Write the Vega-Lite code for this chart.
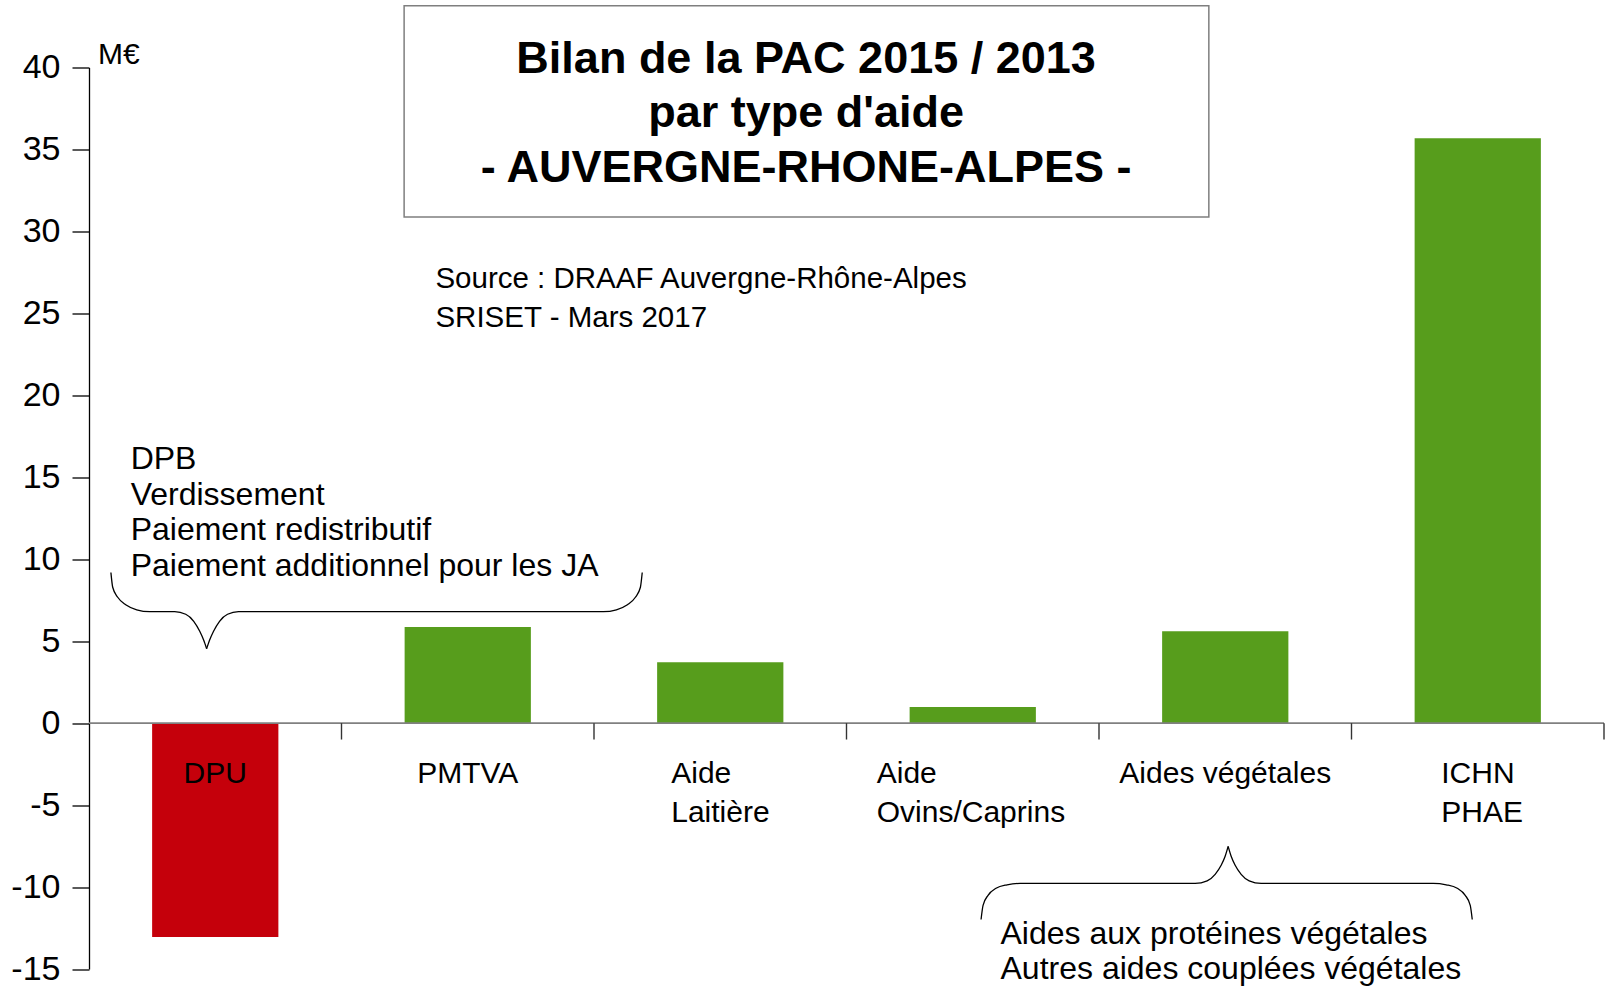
{
  "$schema": "https://vega.github.io/schema/vega-lite/v6.json",
  "width": 1515,
  "height": 901.5,
  "autosize": {"type": "none"},
  "padding": {"left": 89, "top": 67.5, "right": 10, "bottom": 17},
  "background": "#ffffff",
  "config": {
    "view": {"stroke": null},
    "font": "Liberation Sans",
    "text": {"font": "Liberation Sans", "color": "#000000"},
    "axisY": {
      "grid": false,
      "domainColor": "#000000", "domainWidth": 1.3,
      "tickColor": "#000000", "tickWidth": 1.3, "tickSize": 17,
      "labelFontSize": 34, "labelColor": "#000000", "labelPadding": 12,
      "labelFont": "Liberation Sans", "labelFlush": false, "labelOverlap": false,
      "labelExpr": "'' + datum.value",
      "titleAngle": 0, "titleAlign": "left", "titleBaseline": "alphabetic",
      "titleX": 8.5, "titleY": -4, "titleFontSize": 30, "titleFontWeight": "normal",
      "titleColor": "#000000", "titleFont": "Liberation Sans"
    }
  },
  "datasets": {
    "bars": [
      {"cat": "DPU", "value": -13.05, "label": "DPU"},
      {"cat": "PMTVA", "value": 5.86, "label": "PMTVA"},
      {"cat": "Aide Laitière", "value": 3.72, "label": "Aide\nLaitière"},
      {"cat": "Aide Ovins/Caprins", "value": 0.98, "label": "Aide\nOvins/Caprins"},
      {"cat": "Aides végétales", "value": 5.61, "label": "Aides végétales"},
      {"cat": "ICHN PHAE", "value": 35.69, "label": "ICHN\nPHAE"}
    ],
    "notes": [
      {"text": "DPB\nVerdissement\nPaiement redistributif\nPaiement additionnel pour les JA", "u": 0.165, "v": 15.49},
      {"text": "Aides aux protéines végétales\nAutres aides couplées végétales", "u": 3.61, "v": -13.45}
    ],
    "braces": [
      {"g": "b1L", "u": 0.0868, "v": 9.187},
      {"g": "b1L", "u": 0.0939, "v": 8.29},
      {"g": "b1L", "u": 0.1137, "v": 7.679},
      {"g": "b1L", "u": 0.1454, "v": 7.222},
      {"g": "b1L", "u": 0.189, "v": 6.917},
      {"g": "b1L", "u": 0.2405, "v": 6.801},
      {"g": "b1L", "u": 0.3395, "v": 6.801},
      {"g": "b1L", "u": 0.3831, "v": 6.642},
      {"g": "b1L", "u": 0.4148, "v": 6.215},
      {"g": "b1L", "u": 0.4386, "v": 5.605},
      {"g": "b1L", "u": 0.4544, "v": 5.056},
      {"g": "b1L", "u": 0.4659, "v": 4.543},
      {"g": "b1R", "u": 0.4659, "v": 4.543},
      {"g": "b1R", "u": 0.4774, "v": 5.056},
      {"g": "b1R", "u": 0.4933, "v": 5.605},
      {"g": "b1R", "u": 0.517, "v": 6.215},
      {"g": "b1R", "u": 0.5487, "v": 6.642},
      {"g": "b1R", "u": 0.5923, "v": 6.801},
      {"g": "b1R", "u": 2.0372, "v": 6.801},
      {"g": "b1R", "u": 2.0887, "v": 6.917},
      {"g": "b1R", "u": 2.1323, "v": 7.222},
      {"g": "b1R", "u": 2.164, "v": 7.679},
      {"g": "b1R", "u": 2.1838, "v": 8.29},
      {"g": "b1R", "u": 2.191, "v": 9.187},
      {"g": "b2L", "u": 3.5329, "v": -11.98},
      {"g": "b2L", "u": 3.5408, "v": -11.114},
      {"g": "b2L", "u": 3.5606, "v": -10.504},
      {"g": "b2L", "u": 3.5923, "v": -10.076},
      {"g": "b2L", "u": 3.6359, "v": -9.863},
      {"g": "b2L", "u": 3.6874, "v": -9.777},
      {"g": "b2L", "u": 4.3807, "v": -9.777},
      {"g": "b2L", "u": 4.4283, "v": -9.619},
      {"g": "b2L", "u": 4.46, "v": -9.222},
      {"g": "b2L", "u": 4.4838, "v": -8.673},
      {"g": "b2L", "u": 4.4996, "v": -8.124},
      {"g": "b2L", "u": 4.5115, "v": -7.52},
      {"g": "b2R", "u": 4.5115, "v": -7.52},
      {"g": "b2R", "u": 4.5234, "v": -8.124},
      {"g": "b2R", "u": 4.5392, "v": -8.673},
      {"g": "b2R", "u": 4.563, "v": -9.222},
      {"g": "b2R", "u": 4.5947, "v": -9.619},
      {"g": "b2R", "u": 4.6422, "v": -9.777},
      {"g": "b2R", "u": 5.3236, "v": -9.777},
      {"g": "b2R", "u": 5.3752, "v": -9.863},
      {"g": "b2R", "u": 5.4188, "v": -10.076},
      {"g": "b2R", "u": 5.4504, "v": -10.504},
      {"g": "b2R", "u": 5.4703, "v": -11.114},
      {"g": "b2R", "u": 5.4782, "v": -11.98}
    ]
  },
  "layer": [
    {
      "data": {"name": "bars"},
      "mark": {"type": "bar"},
      "encoding": {
        "x": {"field": "cat", "type": "nominal", "sort": null,
              "scale": {"type": "band", "domain": ["DPU", "PMTVA", "Aide Laitière", "Aide Ovins/Caprins", "Aides végétales", "ICHN PHAE"], "paddingInner": 0.5, "paddingOuter": 0.25},
              "axis": null},
        "y": {"field": "value", "type": "quantitative",
              "scale": {"domain": [-15, 40], "nice": false, "zero": false},
              "axis": {"values": [-15, -10, -5, 0, 5, 10, 15, 20, 25, 30, 35, 40], "title": "M€"}},
        "color": {
          "condition": {"test": "datum.value < 0", "value": "#C5000B"},
          "value": "#579D1C"
        }
      }
    },
    {
      "data": {"values": [{}]},
      "mark": {"type": "rule", "color": "#808080", "strokeWidth": 1.8},
      "encoding": {
        "y": {"datum": 0, "type": "quantitative", "scale": {"domain": [-15, 40], "nice": false, "zero": false},
              "axis": {"values": [-15, -10, -5, 0, 5, 10, 15, 20, 25, 30, 35, 40], "title": "M€"}}
      }
    },
    {
      "data": {"name": "bars"},
      "mark": {"type": "rule", "color": "#333333", "strokeWidth": 1.4},
      "encoding": {
        "x": {"field": "cat", "type": "nominal", "sort": null, "bandPosition": 1,
              "scale": {"type": "band", "domain": ["DPU", "PMTVA", "Aide Laitière", "Aide Ovins/Caprins", "Aides végétales", "ICHN PHAE"], "paddingInner": 0, "paddingOuter": 0},
              "axis": null},
        "y": {"datum": 0, "type": "quantitative", "scale": {"domain": [-15, 40], "nice": false, "zero": false},
              "axis": {"values": [-15, -10, -5, 0, 5, 10, 15, 20, 25, 30, 35, 40], "title": "M€"}},
        "y2": {"datum": -1}
      }
    },
    {
      "data": {"name": "bars"},
      "transform": [{"filter": "indexof(['DPU','PMTVA','Aides végétales'], datum.cat) >= 0"}],
      "mark": {"type": "text", "align": "center", "baseline": "alphabetic", "fontSize": 30, "lineHeight": 39, "lineBreak": "\n"},
      "encoding": {
        "x": {"field": "cat", "type": "nominal", "sort": null,
              "scale": {"type": "band", "domain": ["DPU", "PMTVA", "Aide Laitière", "Aide Ovins/Caprins", "Aides végétales", "ICHN PHAE"], "paddingInner": 0, "paddingOuter": 0},
              "axis": null},
        "y": {"datum": -3.65, "type": "quantitative", "scale": {"domain": [-15, 40], "nice": false, "zero": false},
              "axis": {"values": [-15, -10, -5, 0, 5, 10, 15, 20, 25, 30, 35, 40], "title": "M€"}},
        "text": {"field": "label"}
      }
    },
    {
      "data": {"name": "bars"},
      "transform": [{"filter": "datum.cat === 'Aide Laitière'"}],
      "mark": {"type": "text", "align": "left", "baseline": "alphabetic", "fontSize": 30, "lineHeight": 39, "lineBreak": "\n", "dx": -49},
      "encoding": {
        "x": {"field": "cat", "type": "nominal", "sort": null,
              "scale": {"type": "band", "domain": ["DPU", "PMTVA", "Aide Laitière", "Aide Ovins/Caprins", "Aides végétales", "ICHN PHAE"], "paddingInner": 0, "paddingOuter": 0},
              "axis": null},
        "y": {"datum": -3.65, "type": "quantitative", "scale": {"domain": [-15, 40], "nice": false, "zero": false},
              "axis": {"values": [-15, -10, -5, 0, 5, 10, 15, 20, 25, 30, 35, 40], "title": "M€"}},
        "text": {"field": "label"}
      }
    },
    {
      "data": {"name": "bars"},
      "transform": [{"filter": "datum.cat === 'Aide Ovins/Caprins'"}],
      "mark": {"type": "text", "align": "left", "baseline": "alphabetic", "fontSize": 30, "lineHeight": 39, "lineBreak": "\n", "dx": -96},
      "encoding": {
        "x": {"field": "cat", "type": "nominal", "sort": null,
              "scale": {"type": "band", "domain": ["DPU", "PMTVA", "Aide Laitière", "Aide Ovins/Caprins", "Aides végétales", "ICHN PHAE"], "paddingInner": 0, "paddingOuter": 0},
              "axis": null},
        "y": {"datum": -3.65, "type": "quantitative", "scale": {"domain": [-15, 40], "nice": false, "zero": false},
              "axis": {"values": [-15, -10, -5, 0, 5, 10, 15, 20, 25, 30, 35, 40], "title": "M€"}},
        "text": {"field": "label"}
      }
    },
    {
      "data": {"name": "bars"},
      "transform": [{"filter": "datum.cat === 'ICHN PHAE'"}],
      "mark": {"type": "text", "align": "left", "baseline": "alphabetic", "fontSize": 30, "lineHeight": 39, "lineBreak": "\n", "dx": -36.5},
      "encoding": {
        "x": {"field": "cat", "type": "nominal", "sort": null,
              "scale": {"type": "band", "domain": ["DPU", "PMTVA", "Aide Laitière", "Aide Ovins/Caprins", "Aides végétales", "ICHN PHAE"], "paddingInner": 0, "paddingOuter": 0},
              "axis": null},
        "y": {"datum": -3.65, "type": "quantitative", "scale": {"domain": [-15, 40], "nice": false, "zero": false},
              "axis": {"values": [-15, -10, -5, 0, 5, 10, 15, 20, 25, 30, 35, 40], "title": "M€"}},
        "text": {"field": "label"}
      }
    },
    {
      "data": {"values": [{}]},
      "mark": {"type": "rect", "fill": "#ffffff", "fillOpacity": 0, "stroke": "#7f7f7f", "strokeWidth": 1.5},
      "encoding": {
        "x": {"datum": 1.248, "type": "quantitative", "scale": {"domain": [0, 6], "nice": false, "zero": false}, "axis": null},
        "x2": {"datum": 4.435},
        "y": {"datum": 30.88, "type": "quantitative", "scale": {"domain": [-15, 40], "nice": false, "zero": false},
              "axis": {"values": [-15, -10, -5, 0, 5, 10, 15, 20, 25, 30, 35, 40], "title": "M€"}},
        "y2": {"datum": 43.76}
      }
    },
    {
      "data": {"values": [{}]},
      "mark": {"type": "text", "text": "Bilan de la PAC 2015 / 2013\npar type d'aide\n- AUVERGNE-RHONE-ALPES -", "lineBreak": "\n",
               "align": "center", "baseline": "alphabetic", "fontSize": 45, "fontWeight": "bold", "lineHeight": 54.5},
      "encoding": {
        "x": {"datum": 2.84, "type": "quantitative", "scale": {"domain": [0, 6], "nice": false, "zero": false}, "axis": null},
        "y": {"datum": 39.67, "type": "quantitative", "scale": {"domain": [-15, 40], "nice": false, "zero": false},
              "axis": {"values": [-15, -10, -5, 0, 5, 10, 15, 20, 25, 30, 35, 40], "title": "M€"}}
      }
    },
    {
      "data": {"values": [{}]},
      "mark": {"type": "text", "text": "Source : DRAAF Auvergne-Rhône-Alpes\nSRISET - Mars 2017", "lineBreak": "\n",
               "align": "left", "baseline": "alphabetic", "fontSize": 29.5, "lineHeight": 39},
      "encoding": {
        "x": {"datum": 1.372, "type": "quantitative", "scale": {"domain": [0, 6], "nice": false, "zero": false}, "axis": null},
        "y": {"datum": 26.53, "type": "quantitative", "scale": {"domain": [-15, 40], "nice": false, "zero": false},
              "axis": {"values": [-15, -10, -5, 0, 5, 10, 15, 20, 25, 30, 35, 40], "title": "M€"}}
      }
    },
    {
      "data": {"name": "notes"},
      "mark": {"type": "text", "lineBreak": "\n", "align": "left", "baseline": "alphabetic", "fontSize": 32, "lineHeight": 35.5},
      "encoding": {
        "x": {"field": "u", "type": "quantitative", "scale": {"domain": [0, 6], "nice": false, "zero": false}, "axis": null},
        "y": {"field": "v", "type": "quantitative", "scale": {"domain": [-15, 40], "nice": false, "zero": false},
              "axis": {"values": [-15, -10, -5, 0, 5, 10, 15, 20, 25, 30, 35, 40], "title": "M€"}},
        "text": {"field": "text"}
      }
    },
    {
      "data": {"name": "braces"},
      "mark": {"type": "line", "interpolate": "monotone", "color": "#000000", "strokeWidth": 1.3},
      "encoding": {
        "x": {"field": "u", "type": "quantitative", "scale": {"domain": [0, 6], "nice": false, "zero": false}, "axis": null},
        "y": {"field": "v", "type": "quantitative", "scale": {"domain": [-15, 40], "nice": false, "zero": false},
              "axis": {"values": [-15, -10, -5, 0, 5, 10, 15, 20, 25, 30, 35, 40], "title": "M€"}},
        "detail": {"field": "g"}
      }
    }
  ],
  "resolve": {"scale": {"x": "independent"}}
}
